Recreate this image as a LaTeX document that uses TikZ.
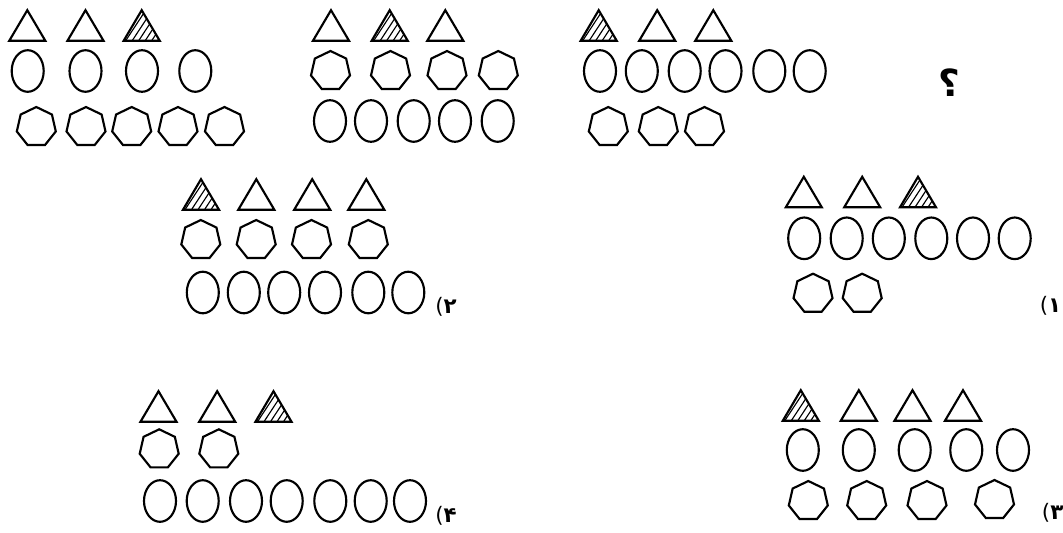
\documentclass[tikz,border=0pt]{standalone}
\usepackage{fontspec}
\newfontfamily\fa[Script=Arabic]{DejaVu Sans}
\newfontfamily\dv{DejaVu Sans}
\newcommand{\optlabel}[1]{{\dv(}{\dv\bfseries #1}}
\tikzset{
  shp/.style={line width=1.6pt, line join=miter},
  hatchline/.style={line width=0.85pt},
  lbl/.style={font=\fontsize{16}{18}\selectfont, inner sep=0pt},
  tri/.pic={\draw[shp] (-18,-1) -- (18,-1) -- (0,-31.5) -- cycle;},
  htri/.pic={
    \begin{scope}
      \clip (-18,-1) -- (18,-1) -- (0,-31.5) -- cycle;
      \foreach \i in {-44,-37.5,...,20} \draw[hatchline] (\i,2) -- ++(25,-38);
    \end{scope}
    \draw[shp] (-18,-1) -- (18,-1) -- (0,-31.5) -- cycle;},
  ell/.pic={\draw[shp] (0,0) ellipse [x radius=16, y radius=20.8];},
  hep/.pic={\draw[shp] (-90:20) \foreach \k in {1,...,6}{ -- (-90+\k*360/7:20)} -- cycle;}
}
\begin{document}
\begin{tikzpicture}[x=0.75pt,y=-0.75pt]
\useasboundingbox (0,0) rectangle (1063,532);
% group 1 (top left)
\pic at (27.3,41.7) {tri}; \pic at (85.5,41.7) {tri}; \pic at (141.7,41.7) {htri};
\foreach \x in {27.7,85.5,142,195.3} \pic at (\x,71) {ell};
\foreach \x in {36.3,86,131.7,178,224.5} \pic at (\x,127) {hep};
% group 2 (top middle)
\pic at (331,41.7) {tri}; \pic at (389.7,41.7) {htri}; \pic at (445.3,41.7) {tri};
\foreach \x in {330.5,390.5,447,498.3} \pic at (\x,71) {hep};
\foreach \x in {330,371,413.7,455,497.7} \pic at (\x,121) {ell};
% group 3 (top right)
\pic at (598.7,41.7) {htri}; \pic at (657.2,41.7) {tri}; \pic at (713.3,41.7) {tri};
\foreach \x in {600,641.8,684.7,725.5,769.3,809.7} \pic at (\x,71) {ell};
\foreach \x in {608.3,658.3,704.5} \pic at (\x,127) {hep};
\node[font=\fa\bfseries\fontsize{28}{30}\selectfont, inner sep=0pt] (q) at (949,83) {؟};
% option 2 (middle left)
\pic at (201,210.7) {htri}; \pic at (256.3,210.7) {tri}; \pic at (312.2,210.7) {tri}; \pic at (366.3,210.7) {tri};
\foreach \x in {200.8,256.2,311.5,368.3} \pic at (\x,240) {hep};
\foreach \x in {202.8,243.8,284.2,325,368.3,408.3} \pic at (\x,292.5) {ell};
\node[lbl] (l2) at (446,307) {\optlabel{۲}};
% option 1 (middle right)
\pic at (803.8,208.3) {tri}; \pic at (862.2,208.3) {tri}; \pic at (918,208.3) {htri};
\foreach \x in {804.2,846.7,888.8,931.3,973,1014.7} \pic at (\x,238.3) {ell};
\foreach \x in {813,862.2} \pic at (\x,293.7) {hep};
\node[lbl] (l1) at (1050.5,305.5) {\optlabel{۱}};
% option 4 (bottom left)
\pic at (158.5,422.7) {tri}; \pic at (217.2,422.7) {tri}; \pic at (273.5,422.7) {htri};
\foreach \x in {159.2,218.8} \pic at (\x,449.3) {hep};
\foreach \x in {160,202.7,246,286.7,330.3,370.7,410} \pic at (\x,501) {ell};
\node[lbl] (l4) at (446,515.5) {\optlabel{۴}};
% option 3 (bottom right)
\pic at (800.8,421.7) {htri}; \pic at (858.8,421.7) {tri}; \pic at (912.5,421.7) {tri}; \pic at (963,421.7) {tri};
\foreach \x in {802.8,858.8,914.7,966.3,1013} \pic at (\x,450) {ell};
\foreach \x in {808.3,866.7,927} \pic at (\x,501) {hep};
\pic at (994.5,500) {hep};
\node[lbl, anchor=west] (l3) at (1041.7,512.5) {\optlabel{۳}};
\end{tikzpicture}
\end{document}
